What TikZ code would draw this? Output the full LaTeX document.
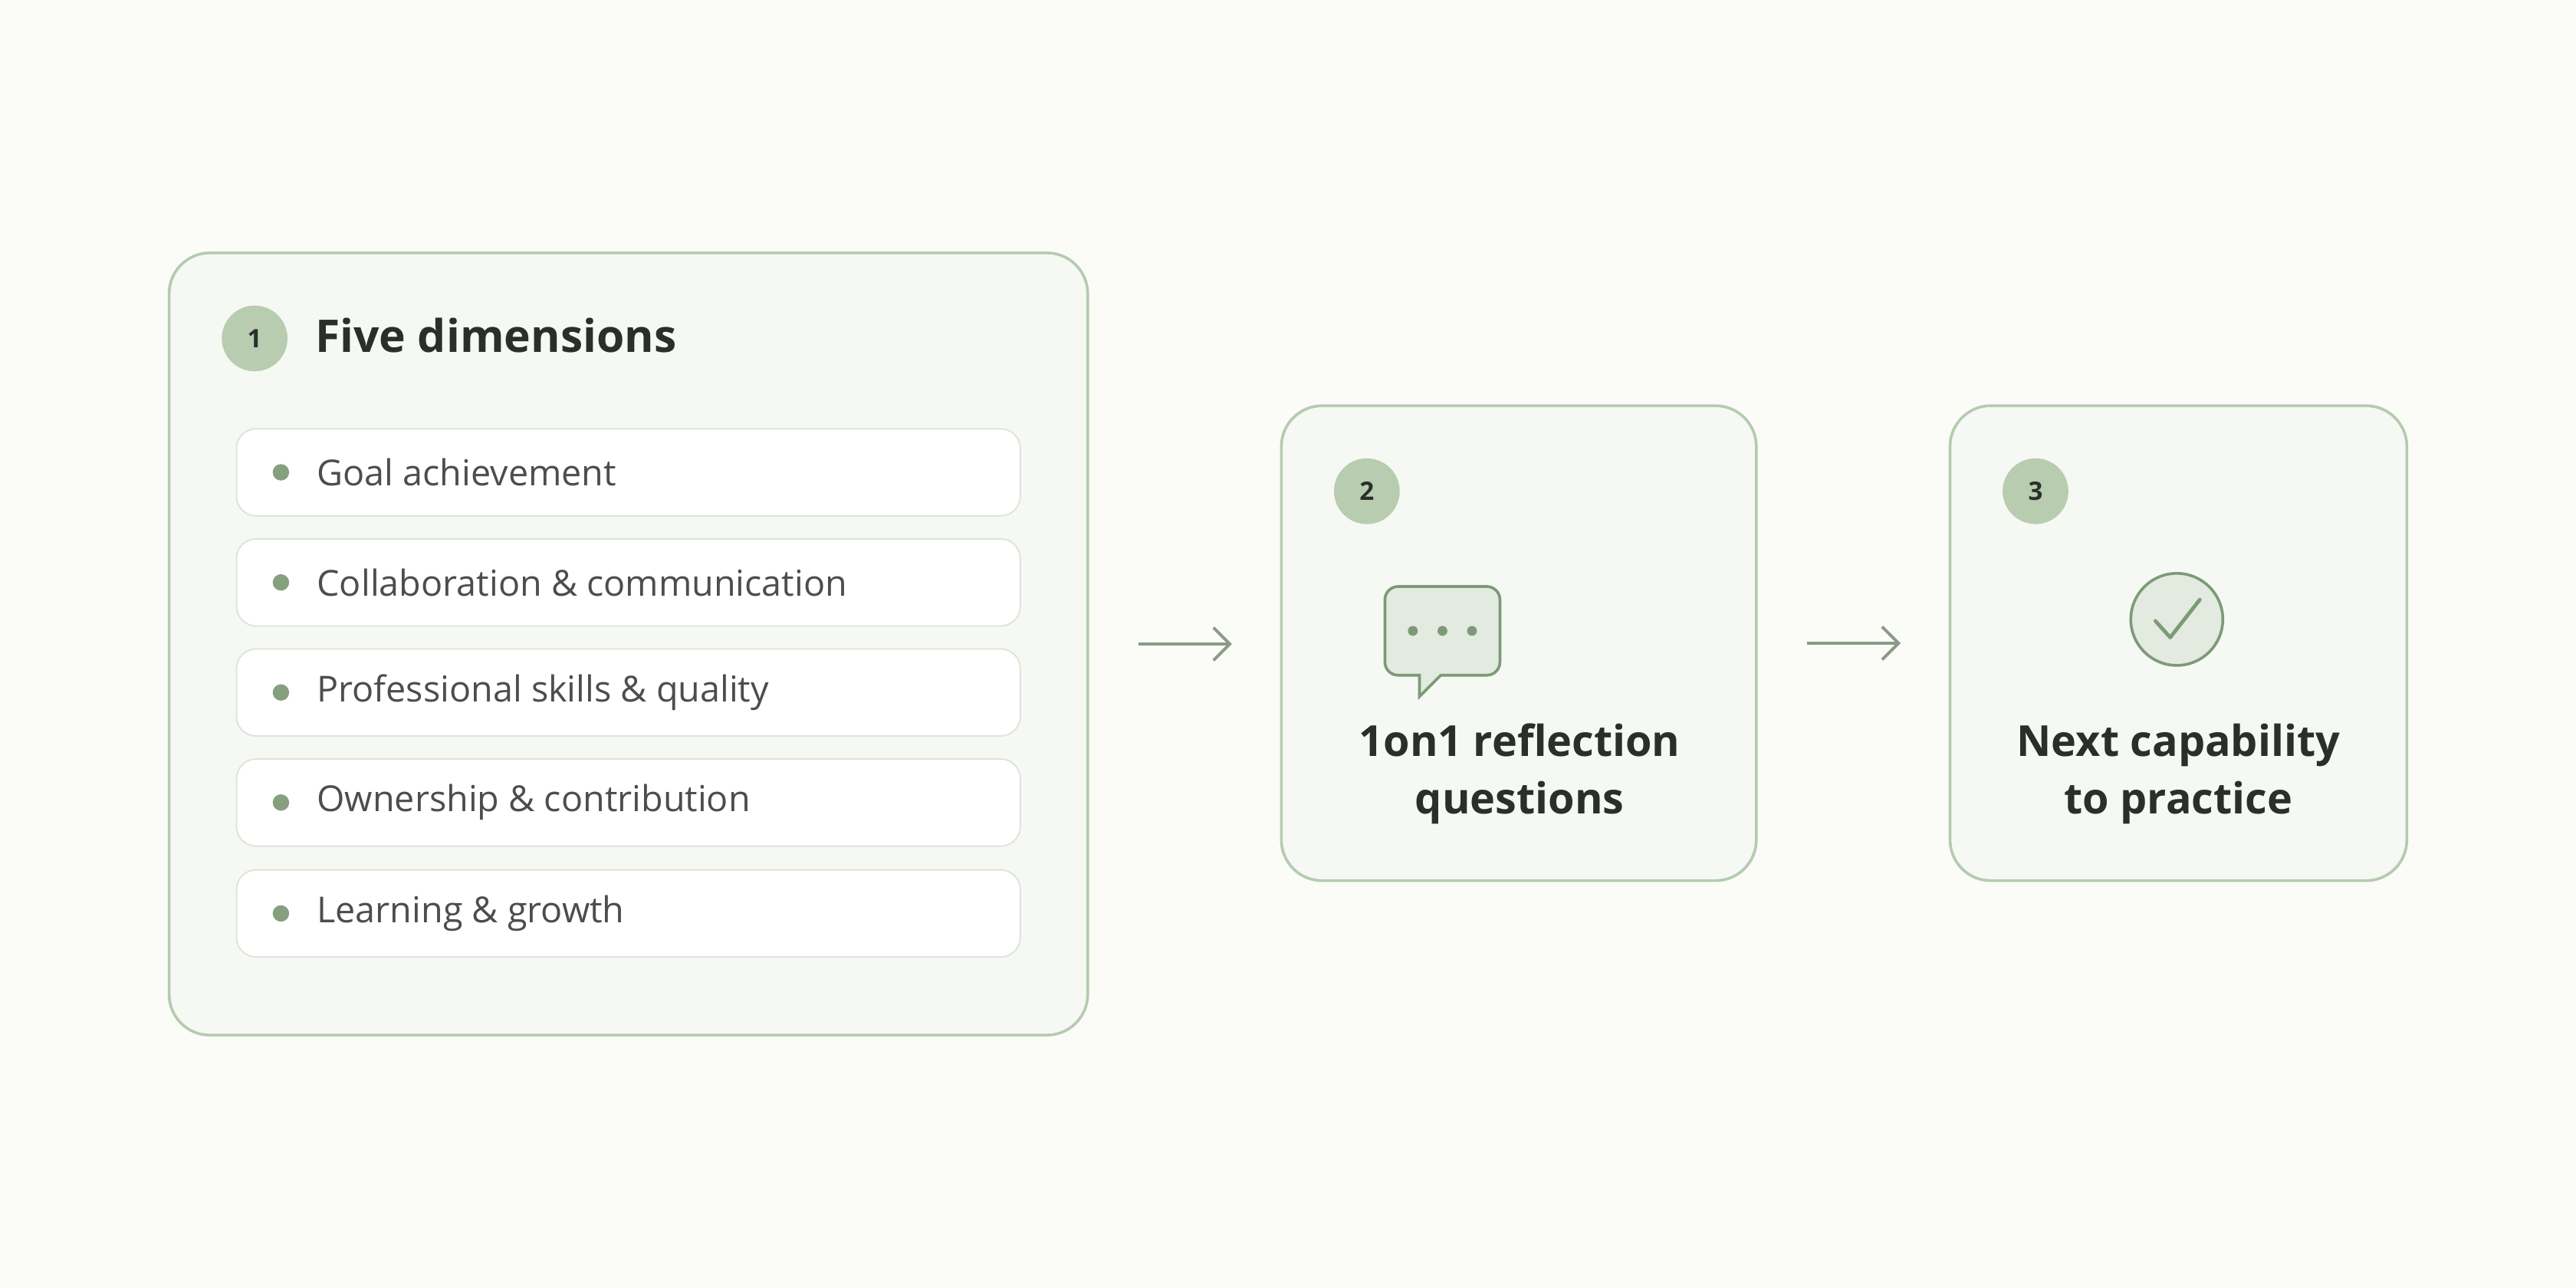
\documentclass[tikz,border=0pt]{standalone}
\usepackage{fontspec}
\setmainfont{Open Sans}
\usetikzlibrary{arrows.meta}
\usetikzlibrary{positioning}
\definecolor{bgcol}{HTML}{FBFCF7}
\definecolor{boxfill}{HTML}{F6F8F4}
\definecolor{boxline}{HTML}{B5CBB0}
\definecolor{badge}{HTML}{B8CCB0}
\definecolor{itemline}{HTML}{DDE3DA}
\definecolor{dotcol}{HTML}{86A07F}
\definecolor{arrowcol}{HTML}{8A9A86}
\definecolor{iconfill}{HTML}{E3EADF}
\definecolor{iconline}{HTML}{7D9A77}
\definecolor{txt}{HTML}{2B2F2A}
\tikzset{
  stage/.style={draw=boxline, line width=1.2pt, fill=boxfill, rounded corners=0.62cm},
  badgenode/.style={circle, fill=badge, minimum size=1cm, inner sep=0pt, text=txt, font=\fontsize{11}{11}\selectfont\bfseries},
  item/.style={draw=itemline, line width=0.6pt, fill=white, rounded corners=0.3cm,
    minimum width=11.925cm, minimum height=1.325cm},
  itemtext/.style={anchor=west, text=txt!85, font=\fontsize{15.5}{15.5}\selectfont},
  bullet/.style={circle, fill=dotcol, minimum size=0.25cm, inner sep=0pt},
  steptext/.style={align=center, text=txt, font=\fontsize{18.5}{25}\selectfont\bfseries},
  flow/.style={draw=arrowcol, line width=1.3pt, -{Straight Barb[length=0.25cm,width=0.5cm]}, shorten <=0.75cm, shorten >=0.73cm}
}
\begin{document}
\begin{tikzpicture}[x=0.025cm, y=-0.025cm]
  \fill[bgcol] (0,0) rectangle (1568,784);
  \useasboundingbox (0,0) rectangle (1568,784);

  % stage boxes
  \node[stage, minimum width=13.975cm, minimum height=11.9cm] (box1) at (382.5,392) {};
  \node[stage, minimum width=7.225cm, minimum height=7.225cm] (box2) at (924.5,391.5) {};
  \node[stage, minimum width=6.95cm, minimum height=7.225cm] (box3) at (1326,391.5) {};

  % badges
  \node[badgenode] (b1) at (155,206) {1};
  \node[badgenode] (b2) at (832,299) {2};
  \node[badgenode] (b3) at (1239,299) {3};
  \node[anchor=west, text=txt, font=\fontsize{19.5}{19.5}\selectfont\bfseries] (title1) at (187,204) {Five dimensions};

  % dimension list
  \foreach \y/\t [count=\i] in {287.5/Goal achievement, 354.5/Collaboration \& communication,
      421.5/Professional skills \& quality, 488.5/Ownership \& contribution, 556/Learning \& growth} {
    \node[item] (item\i) at (382.5,\y) {};
    \node[bullet] (dot\i) at (171,\y) {};
    \node[itemtext] (lab\i) at (188,\y) {\t};
  }

  % speech bubble icon
  \draw[iconline, fill=iconfill, line width=1.2pt, rounded corners=0.2cm]
    (864,411) -- (843,411) -- (843,357) -- (913,357) -- (913,411)
    [sharp corners] -- (877,411) -- (864,424) -- cycle;
  \foreach \x in {860,878,896} \fill[iconline] (\x,384) circle (0.075cm);

  % check icon
  \node[circle, draw=iconline, fill=iconfill, line width=1.2pt, minimum size=1.4cm] (check) at (1325,377) {};
  \draw[iconline, line width=1.6pt, line cap=round, line join=round] (1312,378) -- (1321,388) -- (1339,365);

  \node[steptext] (t2) at (925,471) {1on1 reflection\\questions};
  \node[steptext] (t3) at (1326,471) {Next capability\\to practice};

  % arrows
  \draw[flow] (box1.east) -- (box1.east -| box2.west);
  \draw[flow] (box2.east) -- (box2.east -| box3.west);
\end{tikzpicture}
\end{document}
